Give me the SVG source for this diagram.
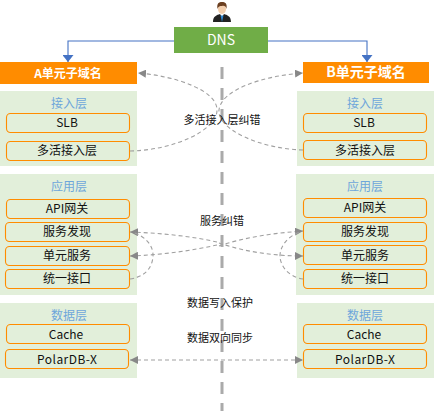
<svg xmlns="http://www.w3.org/2000/svg" width="434" height="411" viewBox="0 0 434 411">
<style>
text{font-family:"Noto Sans CJK SC","Microsoft YaHei","Noto Sans",sans-serif;font-size:12px;text-anchor:middle;fill:#111}
.panel{fill:#e2efda}
.node{fill:#e2efda;stroke:#ff8c00;stroke-width:1.1}
.layer{fill:#6ea6da}
.head{fill:#ff8c00}
.headt{fill:#fff;font-weight:700}
.lab{font-size:11px}
.dash{fill:none;stroke:#a0a0a0;stroke-width:1.1;stroke-dasharray:4 3}
.blue{fill:none;stroke:#4472c4;stroke-width:1.1}
</style>
<defs>
<marker id="g" markerUnits="userSpaceOnUse" markerWidth="9" markerHeight="8" refX="8" refY="4" orient="auto-start-reverse"><path d="M0 0L8 4L0 8z" fill="#888"/></marker>
<marker id="b" markerUnits="userSpaceOnUse" markerWidth="8" markerHeight="11" refX="7" refY="5.500" orient="auto"><path d="M0 0L7 5.500L0 11z" fill="#4472c4"/></marker>
</defs>
<rect class="panel" x="0" y="91" width="137" height="75"/>
<rect class="panel" x="0" y="174" width="137" height="121"/>
<rect class="panel" x="0" y="303" width="137" height="75"/>
<rect class="panel" x="297" y="91" width="137" height="75"/>
<rect class="panel" x="296" y="174" width="138" height="121"/>
<rect class="panel" x="297" y="303" width="137" height="75"/>
<path d="M222 67V411" fill="none" stroke="#aaa" stroke-width="3" stroke-dasharray="12 9"/>
<g id="connectors">
<path class="blue" marker-end="url(#b)" d="M174 41H68V62"/>
<path class="blue" marker-end="url(#b)" d="M268 41H367V62"/>
<path class="dash" marker-end="url(#g)" d="M130 151C175 150 217 130 217 110C217 90 175 76 138 73"/>
<path class="dash" marker-end="url(#g)" d="M303 150C262 149 217 130 219 110C221 90 262 76 303 73"/>
<path class="dash" marker-end="url(#g)" d="M217 242C190 236 160 233 130 232"/>
<path class="dash" marker-end="url(#g)" d="M217 245C190 251 160 255 130 256"/>
<path class="dash" marker-end="url(#g)" d="M219 246C245 237 275 233 303 231"/>
<path class="dash" marker-end="url(#g)" d="M219 243C245 252 275 256 303 256"/>
<path class="dash" d="M130 279C150 276 153 262 153 255C153 245 145 236 132 232"/>
<path class="dash" d="M303 279C288 277 280 265 280 256C280 246 288 236 300 232"/>
<path class="dash" marker-start="url(#g)" marker-end="url(#g)" d="M130 360H303"/>
</g>
<g id="user">
<path d="M213 22C213 16 217 15 220 14L222 17L224 14C227 15 231 16 231 22z" fill="#222"/>
<path d="M220.500 15.500L222 22L223.500 15.500z" fill="#2e86d0"/>
<ellipse cx="222" cy="9" rx="4" ry="5" fill="#f3cfae"/>
<path d="M217.500 9C216.500 3 219 2 222 2C225 2 227.500 3 226.500 9C226 6 224 5.500 222 6C220 6 218 6.500 217.500 9z" fill="#6b3f20"/>
</g>
<g id="dns"><rect x="174" y="27" width="94" height="26" fill="#70ad47"/><text x="221" y="45" style="fill:#fff;font-size:14px">DNS</text></g>
<g id="a-head"><rect class="head" x="0" y="62" width="137" height="22"/><text class="headt" x="68" y="78">A单元子域名</text></g>
<g id="b-head"><rect class="head" x="303" y="62" width="126" height="21"/><text class="headt" x="366" y="77" style="font-size:14px">B单元子域名</text></g>
<g id="a-access"><text class="layer" x="69" y="108">接入层</text></g>
<g id="a-slb"><rect class="node" x="6.500" y="113.500" width="123" height="19" rx="4"/><text x="67" y="127">SLB</text></g>
<g id="a-multi"><rect class="node" x="6.500" y="141.500" width="123" height="19" rx="4"/><text x="67" y="155">多活接入层</text></g>
<g id="a-app"><text class="layer" x="69" y="191">应用层</text></g>
<g id="a-api"><rect class="node" x="6.500" y="199.500" width="123" height="19" rx="4"/><text x="67" y="213">API网关</text></g>
<g id="a-disc"><rect class="node" x="5.500" y="222.500" width="124" height="19" rx="4"/><text x="67" y="236">服务发现</text></g>
<g id="a-unit"><rect class="node" x="5.500" y="246.500" width="124" height="19" rx="4"/><text x="67" y="260">单元服务</text></g>
<g id="a-if"><rect class="node" x="5.500" y="269.500" width="124" height="19" rx="4"/><text x="67" y="283">统一接口</text></g>
<g id="a-data"><text class="layer" x="69" y="320">数据层</text></g>
<g id="a-cache"><rect class="node" x="6.500" y="324.500" width="123" height="19" rx="4"/><text x="66" y="339">Cache</text></g>
<g id="a-polar"><rect class="node" x="5.500" y="349.500" width="123" height="19" rx="4"/><text x="67" y="364" textLength="60">PolarDB-X</text></g>
<g id="b-access"><text class="layer" x="365" y="108">接入层</text></g>
<g id="b-slb"><rect class="node" x="303.500" y="113.500" width="123" height="19" rx="4"/><text x="364" y="127">SLB</text></g>
<g id="b-multi"><rect class="node" x="303.500" y="140.500" width="123" height="19" rx="4"/><text x="365" y="155">多活接入层</text></g>
<g id="b-app"><text class="layer" x="365" y="191">应用层</text></g>
<g id="b-api"><rect class="node" x="303.500" y="198.500" width="123" height="19" rx="4"/><text x="365" y="212">API网关</text></g>
<g id="b-disc"><rect class="node" x="303.500" y="222.500" width="123" height="19" rx="4"/><text x="365" y="236">服务发现</text></g>
<g id="b-unit"><rect class="node" x="303.500" y="245.500" width="123" height="19" rx="4"/><text x="365" y="260">单元服务</text></g>
<g id="b-if"><rect class="node" x="303.500" y="269.500" width="123" height="19" rx="4"/><text x="365" y="283">统一接口</text></g>
<g id="b-data"><text class="layer" x="365" y="320">数据层</text></g>
<g id="b-cache"><rect class="node" x="303.500" y="324.500" width="123" height="19" rx="4"/><text x="364" y="339">Cache</text></g>
<g id="b-polar"><rect class="node" x="303.500" y="349.500" width="123" height="19" rx="4"/><text x="365" y="364" textLength="60">PolarDB-X</text></g>
<text class="lab" x="222" y="124">多活接入层纠错</text>
<text class="lab" x="222" y="225">服务纠错</text>
<text class="lab" x="220" y="307">数据写入保护</text>
<text class="lab" x="220" y="342">数据双向同步</text>
</svg>
